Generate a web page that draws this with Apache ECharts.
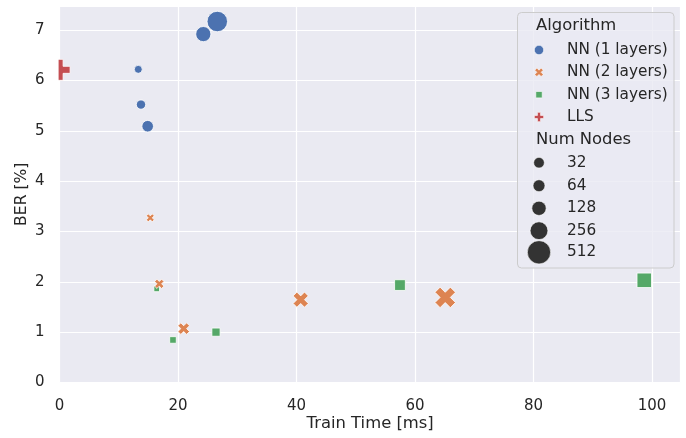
<!DOCTYPE html>
<html>
<head>
<meta charset="utf-8">
<script src="https://cdn.jsdelivr.net/npm/echarts@6/dist/echarts.min.js"></script>
<style>
  html, body { margin: 0; padding: 0; background: #fff; }
  #panel { width: 686px; height: 438px; }
</style>
</head>
<body>
<div id="panel"></div>
<script>
// data
var numNodes = [32, 64, 128, 256, 512];
var nn1Time = [13.28, 13.74, 14.87, 24.26, 26.62];
var nn1Ber = [6.22, 5.52, 5.09, 6.92, 7.17];
var nn2Time = [15.31, 16.83, 20.95, 40.7, 65.1];
var nn2Ber = [3.27, 1.96, 1.07, 1.645, 1.69];
var nn3Time = [16.39, 19.14, 26.4, 57.46, 98.7];
var nn3Ber = [1.86, 0.845, 1.0, 1.935, 2.03];
var llsTime = [0.0];
var llsBer = [6.21];

var algoNames = ['NN (1 layers)', 'NN (2 layers)', 'NN (3 layers)', 'LLS'];
var colors = ['#4C72B0', '#DD8452', '#55A868', '#C44E52'];

// marker diameter (px) for each node count
var sizePx = { 32: 8, 64: 9.3, 128: 11.6, 256: 15.2, 512: 20.5 };
var legendSizePx = { 32: 10.7, 64: 12, 128: 14.3, 256: 17.8, 512: 23.3 };

var X_PATH = 'path://M1,0L2,1L3,0L4,1L3,2L4,3L3,4L2,3L1,4L0,3L1,2L0,1Z';
var PLUS_PATH = 'path://M2,0L4,0L4,2L6,2L6,4L4,4L4,6L2,6L2,4L0,4L0,2L2,2Z';

function pts(times, bers, scale) {
    return times.map(function (t, i) {
        return { value: [t, bers[i]], symbolSize: sizePx[numNodes[i]] * (scale || 1) };
    });
}

var FONT = 'DejaVu Sans';
var TXT = '#262626';

function scatter(name, data, symbol, color) {
    return {
        name: name,
        type: 'scatter',
        symbol: symbol,
        data: data,
        itemStyle: { color: color, opacity: 1, borderColor: '#ffffff', borderWidth: 0.8 },
        emphasis: { disabled: true }
    };
}

// legend drawn with graphic elements (seaborn style two-section legend)
function polyPoints(pathPts, cx, cy, size, span) {
    return pathPts.map(function (p) {
        return [cx + (p[0] - span / 2) * size / span, cy + (p[1] - span / 2) * size / span];
    });
}
var xPts = [[1,0],[2,1],[3,0],[4,1],[3,2],[4,3],[3,4],[2,3],[1,4],[0,3],[1,2],[0,1]];
var plusPts = [[2,0],[4,0],[4,2],[6,2],[6,4],[4,4],[4,6],[2,6],[2,4],[0,4],[0,2],[2,2]];

var lgX = 539, lgTextX = 567, lgTitleX = 536;
var algoRows = [50, 72.3, 94.7, 117];
var sizeRows = [162.7, 185.7, 208.3, 230.7, 252.3];

var legendEls = [{
    type: 'rect',
    shape: { x: 517.5, y: 12.5, width: 156.5, height: 255.5, r: 4 },
    style: { fill: 'rgba(234,234,242,0.8)', stroke: '#cccccc', lineWidth: 1 },
    z: 20
}];
function addText(txt, x, y, size) {
    legendEls.push({
        type: 'text', x: x, y: y, z: 21,
        style: { text: txt, fill: TXT, font: size + 'px "' + FONT + '"', textVerticalAlign: 'middle' }
    });
}
addText('Algorithm', lgTitleX, 25.7, 16.4);
addText('Num Nodes', lgTitleX, 139.7, 16.4);
algoNames.forEach(function (n, i) { addText(n, lgTextX, algoRows[i], 15.3); });
legendEls.push({ type: 'circle', z: 21, shape: { cx: lgX, cy: algoRows[0], r: 4.7 }, style: { fill: colors[0], stroke: '#fff', lineWidth: 0.6 } });
legendEls.push({ type: 'polygon', z: 21, shape: { points: polyPoints(xPts, lgX, algoRows[1], 8.5, 4) }, style: { fill: colors[1], stroke: '#fff', lineWidth: 0.6 } });
legendEls.push({ type: 'rect', z: 21, shape: { x: lgX - 3.2, y: algoRows[2] - 3.2, width: 6.4, height: 6.4 }, style: { fill: colors[2], stroke: '#fff', lineWidth: 0.6 } });
legendEls.push({ type: 'polygon', z: 21, shape: { points: polyPoints(plusPts, lgX, algoRows[3], 9.3, 6) }, style: { fill: colors[3], stroke: '#fff', lineWidth: 0.6 } });
numNodes.forEach(function (n, i) {
    addText(String(n), lgTextX, sizeRows[i], 15.3);
    legendEls.push({ type: 'circle', z: 21, shape: { cx: lgX, cy: sizeRows[i], r: legendSizePx[n] / 2 }, style: { fill: '#333333', stroke: '#fff', lineWidth: 0.6 } });
});
// matplotlib clips the LLS marker at the axes edge
legendEls.push({ type: 'rect', z: 15, shape: { x: 47, y: 56, width: 11.6, height: 28 }, style: { fill: '#ffffff' } });

var chartDom = document.getElementById('panel');
var myChart = echarts.init(chartDom, null, { renderer: 'canvas' });

var option = {
    animation: false,
    backgroundColor: '#ffffff',
    textStyle: { fontFamily: FONT },
    grid: {
        left: 59.6, right: 5.3, top: 6, bottom: 55.5,
        containLabel: false, outerBoundsMode: 'none',
        show: true, backgroundColor: '#EAEAF2', borderWidth: 0
    },
    xAxis: {
        type: 'value', min: 0, max: 104.85, interval: 20,
        name: 'Train Time [ms]', nameLocation: 'middle', nameGap: 33, nameMoveOverlap: false,
        nameTextStyle: { color: TXT, fontSize: 16.4, fontFamily: FONT },
        axisLine: { show: false }, axisTick: { show: false },
        axisLabel: { color: TXT, fontSize: 15, fontFamily: FONT, margin: 16, showMaxLabel: false },
        splitLine: { lineStyle: { color: '#ffffff', width: 1.2 } }
    },
    yAxis: {
        type: 'value', min: 0, max: 7.478, interval: 1,
        name: 'BER [%]', nameLocation: 'middle', nameGap: 30, nameMoveOverlap: false,
        nameTextStyle: { color: TXT, fontSize: 15.6, fontFamily: FONT },
        axisLine: { show: false }, axisTick: { show: false },
        axisLabel: { color: TXT, fontSize: 15, fontFamily: FONT, margin: 15, showMaxLabel: false },
        splitLine: { lineStyle: { color: '#ffffff', width: 1.2 } }
    },
    graphic: legendEls,
    series: [
        scatter(algoNames[0], pts(nn1Time, nn1Ber), 'circle', colors[0]),
        scatter(algoNames[2], pts(nn3Time, nn3Ber, 0.707), 'rect', colors[2]),
        scatter(algoNames[1], pts(nn2Time, nn2Ber), X_PATH, colors[1]),
        Object.assign(scatter(algoNames[3], llsTime.map(function (t, i) {
            return { value: [t, llsBer[i]], symbolSize: 21 };
        }), PLUS_PATH, colors[3]), { clip: false })
    ]
};
myChart.setOption(option);
</script>
</body>
</html>
